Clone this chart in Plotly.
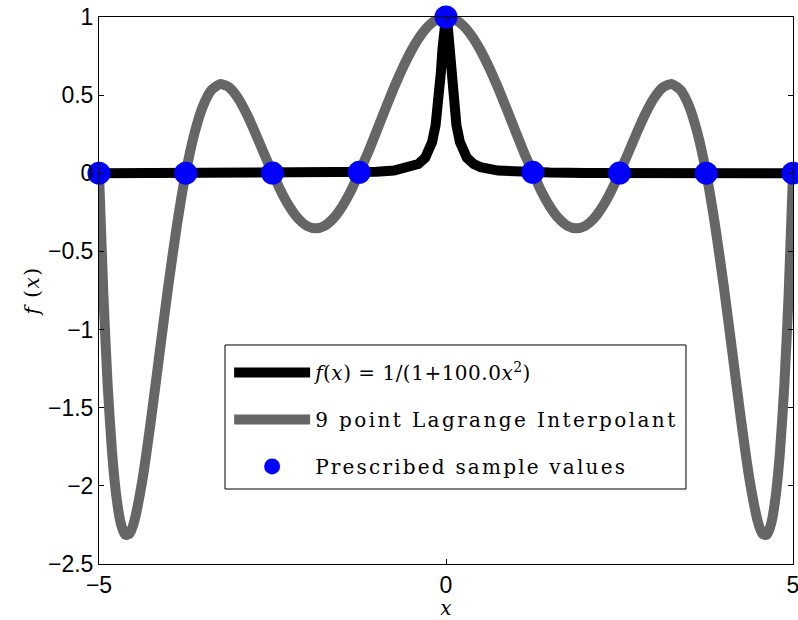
import plotly.graph_objects as go

# Runge function samples
x_f = [-5, -4, -3, -2, -1.5, -1, -0.75, -0.5, -0.4, -0.3, -0.25, -0.2, -0.15, -0.125, -0.1,
       -0.075, -0.05, -0.025, 0, 0.025, 0.05, 0.075, 0.1, 0.125, 0.15, 0.2, 0.25, 0.3, 0.4,
       0.5, 0.75, 1, 1.5, 2, 3, 4, 5]
y_f = [0.0004, 0.0006, 0.0011, 0.0025, 0.0044, 0.0099, 0.0175, 0.0385, 0.0588, 0.1, 0.138,
       0.2, 0.308, 0.39, 0.5, 0.64, 0.8, 0.941, 1.0, 0.941, 0.8, 0.64, 0.5, 0.39, 0.308, 0.2,
       0.138, 0.1, 0.0588, 0.0385, 0.0175, 0.0099, 0.0044, 0.0025, 0.0011, 0.0006, 0.0004]

# 9 point Lagrange interpolant
x_p = [-5.0, -4.9375, -4.875, -4.8125, -4.75, -4.6875, -4.625, -4.5625, -4.5, -4.375, -4.25,
       -4.125, -4.0, -3.875, -3.75, -3.625, -3.5, -3.375, -3.25, -3.125, -3.0, -2.875, -2.75,
       -2.625, -2.5, -2.375, -2.25, -2.125, -2.0, -1.875, -1.75, -1.625, -1.5, -1.375, -1.25,
       -1.125, -1.0, -0.875, -0.75, -0.625, -0.5, -0.375, -0.25, -0.125, 0.0,
       0.125, 0.25, 0.375, 0.5, 0.625, 0.75, 0.875, 1.0, 1.125, 1.25, 1.375, 1.5, 1.625,
       1.75, 1.875, 2.0, 2.125, 2.25, 2.375, 2.5, 2.625, 2.75, 2.875, 3.0, 3.125, 3.25,
       3.375, 3.5, 3.625, 3.75, 3.875, 4.0, 4.125, 4.25, 4.375, 4.5, 4.5625, 4.625, 4.6875,
       4.75, 4.8125, 4.875, 4.9375, 5.0]
y_p = [0.0, -0.772, -1.356, -1.781, -2.067, -2.238, -2.313, -2.308, -2.240, -1.964, -1.575,
       -1.143, -0.715, -0.327, 0.001, 0.254, 0.432, 0.535, 0.571, 0.550, 0.483, 0.382, 0.260,
       0.129, 0.002, -0.118, -0.217, -0.292, -0.338, -0.352, -0.336, -0.289, -0.215, -0.117,
       0.006, 0.131, 0.270, 0.410, 0.547, 0.673, 0.784, 0.876, 0.944, 0.986, 1.0,
       0.986, 0.944, 0.876, 0.784, 0.673, 0.547, 0.410, 0.270, 0.131, 0.006, -0.117, -0.215,
       -0.289, -0.336, -0.352, -0.338, -0.292, -0.217, -0.118, 0.002, 0.129, 0.260, 0.382,
       0.483, 0.550, 0.571, 0.535, 0.432, 0.254, 0.001, -0.327, -0.715, -1.143, -1.575,
       -1.964, -2.240, -2.308, -2.313, -2.238, -2.067, -1.781, -1.356, -0.772, 0.0]

# Prescribed sample values
x_s = [-5, -3.75, -2.5, -1.25, 0, 1.25, 2.5, 3.75, 5]
y_s = [0.0004, 0.0007, 0.0016, 0.0064, 1.0, 0.0064, 0.0016, 0.0007, 0.0004]

x_ticks = [-5, 0, 5]
x_ticktext = ["\u22125", "0", "5"]
y_ticks = [-2.5, -2, -1.5, -1, -0.5, 0, 0.5, 1]
y_ticktext = ["\u22122.5", "\u22122", "\u22121.5", "\u22121", "\u22120.5", "0", "0.5", "1"]

names = [
    "<i>f</i>(<i>x</i>) = 1/(1+100.0<i>x</i><sup>2</sup>)",
    "9 point Lagrange Interpolant",
    "Prescribed sample values",
]
x_title = "<i>x</i>"
y_title = "<i>f</i> (<i>x</i>)"

serif = "DejaVu Serif"
sans = "Arial"


def spaced(t, px):
    return '<span style="letter-spacing:%spx">%s</span>' % (px, t)


fig = go.Figure()
fig.add_trace(go.Scatter(
    x=x_f, y=y_f, mode="lines", line=dict(color="black", width=10),
    name=spaced(names[0], 0.5), legendgroup="a"))
fig.add_trace(go.Scatter(
    x=x_p, y=y_p, mode="lines", line=dict(color="#666666", width=10, shape="spline", smoothing=0.6),
    name=spaced(names[1], 2.4), legendgroup="b"))
fig.add_trace(go.Scatter(
    x=x_s, y=y_s, mode="markers", marker=dict(color="#0000ff", size=23),
    name=spaced(names[2], 2.2), legendgroup="c", cliponaxis=False))

# legend frame (paper coordinates)
fig.add_shape(type="rect", xref="paper", yref="paper",
              x0=0.1816, x1=0.8458, y0=0.1371, y1=0.4004,
              line=dict(color="black", width=1), fillcolor="white", layer="above")

fig.update_layout(
    width=798, height=620,
    margin=dict(l=99, r=5, t=17, b=56, autoexpand=False),
    paper_bgcolor="white", plot_bgcolor="white",
    showlegend=True,
    legend=dict(
        x=0.1875, y=0.3858, xanchor="left", yanchor="top",
        bgcolor="rgba(0,0,0,0)", borderwidth=0,
        font=dict(family=serif, size=20, color="black"),
        itemwidth=76, tracegroupgap=18, itemsizing="trace",
    ),
    xaxis=dict(
        range=[-5, 5], tickvals=x_ticks, ticktext=x_ticktext, automargin=False,
        ticks="inside", ticklen=5, tickcolor="black", showline=True,
        linecolor="black", linewidth=1, mirror="ticks", showgrid=False, zeroline=False,
        tickfont=dict(family=sans, size=23, color="black"), ticklabeloverflow="allow",
        title=dict(text=x_title, font=dict(family=serif, size=20, color="black"), standoff=0),
    ),
    yaxis=dict(
        range=[-2.5, 1], tickvals=y_ticks, ticktext=y_ticktext, automargin=False,
        ticks="inside", ticklen=5, tickcolor="black", showline=True,
        linecolor="black", linewidth=1, mirror="ticks", showgrid=False, zeroline=False,
        tickfont=dict(family=sans, size=23, color="black"), ticklabeloverflow="allow",
        title=dict(text=spaced(y_title, 1.5), font=dict(family=serif, size=20, color="black"), standoff=2),
    ),
)

fig.write_html("out.html")
